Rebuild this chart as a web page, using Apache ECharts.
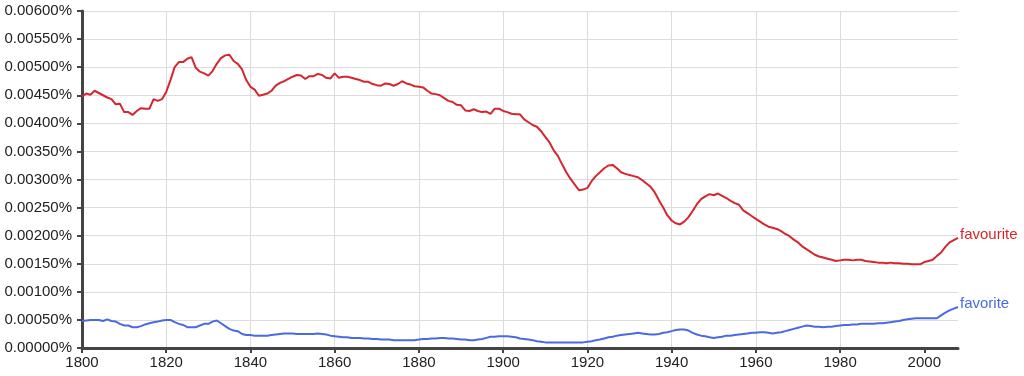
<!DOCTYPE html>
<html>
<head>
<meta charset="utf-8">
<script src="https://cdn.jsdelivr.net/npm/echarts@6/dist/echarts.min.js"></script>
<style>
html,body{margin:0;padding:0;background:#fff;}
#chart{width:1024px;height:376px;}
</style>
</head>
<body>
<div id="chart"></div>
<script>
var startYear = 1800;
var endYear = 2008;
var xTickYears = [1800, 1820, 1840, 1860, 1880, 1900, 1920, 1940, 1960, 1980, 2000];
var seriesNames = ['favourite', 'favorite'];

// values in percent, one per year 1800..2008
var favourite = [
0.00448,0.00453,0.00451,0.00458,0.00454,0.00450,0.00446,0.00443,0.00434,0.00435,
0.00420,0.00420,0.00415,0.00422,0.00427,0.00426,0.00426,0.00443,0.00440,0.00443,
0.00456,0.00477,0.00500,0.00509,0.00509,0.00515,0.00518,0.00499,0.00492,0.00489,
0.00485,0.00493,0.00506,0.00516,0.00521,0.00522,0.00511,0.00506,0.00496,0.00477,
0.00465,0.00460,0.00449,0.00451,0.00453,0.00458,0.00467,0.00472,0.00475,0.00479,
0.00483,0.00486,0.00485,0.00479,0.00484,0.00484,0.00488,0.00486,0.00481,0.00480,
0.00489,0.00481,0.00483,0.00483,0.00481,0.00479,0.00477,0.00474,0.00474,0.00470,
0.00468,0.00467,0.00471,0.00470,0.00467,0.00470,0.00475,0.00471,0.00469,0.00466,
0.00465,0.00464,0.00458,0.00453,0.00452,0.00450,0.00445,0.00440,0.00438,0.00433,
0.00432,0.00423,0.00422,0.00425,0.00422,0.00420,0.00421,0.00417,0.00426,0.00426,
0.00422,0.00420,0.00417,0.00416,0.00416,0.00407,0.00402,0.00397,0.00394,0.00386,
0.00376,0.00366,0.00352,0.00342,0.00327,0.00313,0.00301,0.00291,0.00281,0.00282,
0.00285,0.00297,0.00306,0.00313,0.00320,0.00325,0.00326,0.00320,0.00313,0.00310,
0.00308,0.00306,0.00304,0.00299,0.00293,0.00287,0.00277,0.00263,0.00250,0.00236,
0.00227,0.00222,0.00220,0.00225,0.00233,0.00244,0.00256,0.00265,0.00270,0.00274,
0.00272,0.00275,0.00271,0.00267,0.00262,0.00258,0.00255,0.00245,0.00240,0.00235,
0.00230,0.00225,0.00220,0.00216,0.00214,0.00212,0.00208,0.00203,0.00199,0.00193,
0.00188,0.00181,0.00176,0.00171,0.00166,0.00163,0.00161,0.00159,0.00157,0.00155,
0.00156,0.00157,0.00157,0.00156,0.00157,0.00157,0.00155,0.00154,0.00153,0.00152,
0.00152,0.00151,0.00152,0.00151,0.00151,0.00150,0.00150,0.00149,0.00149,0.00149,
0.00153,0.00155,0.00157,0.00164,0.00170,0.00180,0.00188,0.00192,0.00196
];

var favorite = [
0.00048,0.00049,0.00050,0.00050,0.00050,0.00048,0.00051,0.00048,0.00047,0.00043,
0.00040,0.00040,0.00037,0.00037,0.00039,0.00042,0.00044,0.00046,0.00047,0.00049,
0.00050,0.00050,0.00046,0.00043,0.00041,0.00037,0.00037,0.00037,0.00040,0.00043,
0.00043,0.00047,0.00049,0.00044,0.00039,0.00034,0.00031,0.00030,0.00025,0.00023,
0.00023,0.00022,0.00022,0.00022,0.00022,0.00023,0.00024,0.00025,0.00026,0.00026,
0.00026,0.00025,0.00025,0.00025,0.00025,0.00025,0.00026,0.00025,0.00024,0.00022,
0.00021,0.00020,0.00019,0.00019,0.00018,0.00018,0.00018,0.00017,0.00017,0.00016,
0.00016,0.00015,0.00015,0.00015,0.00014,0.00014,0.00014,0.00014,0.00014,0.00014,
0.00015,0.00016,0.00016,0.00017,0.00017,0.00018,0.00018,0.00017,0.00017,0.00016,
0.00015,0.00015,0.00014,0.00014,0.00015,0.00016,0.00018,0.00020,0.00020,0.00021,
0.00021,0.00021,0.00020,0.00019,0.00017,0.00016,0.00015,0.00014,0.00012,0.00011,
0.00010,0.00010,0.00010,0.00010,0.00010,0.00010,0.00010,0.00010,0.00010,0.00010,
0.00011,0.00012,0.00014,0.00015,0.00017,0.00019,0.00020,0.00022,0.00023,0.00024,
0.00025,0.00026,0.00027,0.00026,0.00025,0.00024,0.00024,0.00025,0.00027,0.00028,
0.00030,0.00032,0.00033,0.00033,0.00031,0.00027,0.00024,0.00022,0.00021,0.00019,
0.00018,0.00019,0.00020,0.00022,0.00022,0.00023,0.00024,0.00025,0.00026,0.00027,
0.00027,0.00028,0.00028,0.00027,0.00026,0.00027,0.00028,0.00030,0.00032,0.00034,
0.00036,0.00038,0.00040,0.00039,0.00038,0.00038,0.00037,0.00038,0.00038,0.00039,
0.00040,0.00041,0.00041,0.00042,0.00042,0.00043,0.00043,0.00043,0.00043,0.00044,
0.00044,0.00045,0.00046,0.00047,0.00048,0.00050,0.00051,0.00052,0.00053,0.00053,
0.00053,0.00053,0.00053,0.00053,0.00058,0.00063,0.00067,0.00070,0.00073
];

var colors = ['#d5262f', '#4a6ae3'];

function pairs(vals) {
  var out = [];
  for (var i = 0; i < vals.length; i++) out.push([startYear + i, vals[i]]);
  return out;
}

var font = 'Liberation Sans, Arial, Helvetica, sans-serif';
var chart = echarts.init(document.getElementById('chart'), null, {renderer: 'canvas'});
chart.setOption({
  animation: false,
  backgroundColor: '#ffffff',
  grid: {left: 82, right: 66, top: 11, bottom: 28, containLabel: false},
  xAxis: {
    type: 'value', min: startYear, max: endYear, interval: 20,
    axisLine: {show: true, onZero: false, lineStyle: {color: '#444', width: 3}},
    axisTick: {show: true, length: 5, customValues: xTickYears, lineStyle: {color: '#444', width: 2}},
    axisLabel: {show: true, customValues: xTickYears, margin: 7, color: '#222', fontSize: 15, fontFamily: font,
      formatter: function (v) { return String(v); }},
    splitLine: {show: true, showMinLine: false, showMaxLine: false, lineStyle: {color: '#dcdcdc', width: 1}}
  },
  yAxis: {
    type: 'value', min: 0, max: 0.006, interval: 0.0005,
    axisLine: {show: true, lineStyle: {color: '#444', width: 3}},
    axisTick: {show: true, length: 5, lineStyle: {color: '#444', width: 2}},
    axisLabel: {margin: 10, color: '#222', fontSize: 15, fontFamily: font,
      formatter: function (v) { return v.toFixed(5) + '%'; }},
    splitLine: {show: true, lineStyle: {color: '#dcdcdc', width: 1}}
  },
  series: [favourite, favorite].map(function (vals, i) {
    return {
      name: seriesNames[i], type: 'line', data: pairs(vals),
      showSymbol: false, symbol: 'none', smooth: false,
      lineStyle: {color: colors[i], width: 2},
      itemStyle: {color: colors[i]},
      endLabel: {show: true, formatter: seriesNames[i], color: colors[i], fontSize: 15,
        fontFamily: font, distance: 2, offset: [0, -3]},
      emphasis: {disabled: true}
    };
  })
});
</script>
</body>
</html>
